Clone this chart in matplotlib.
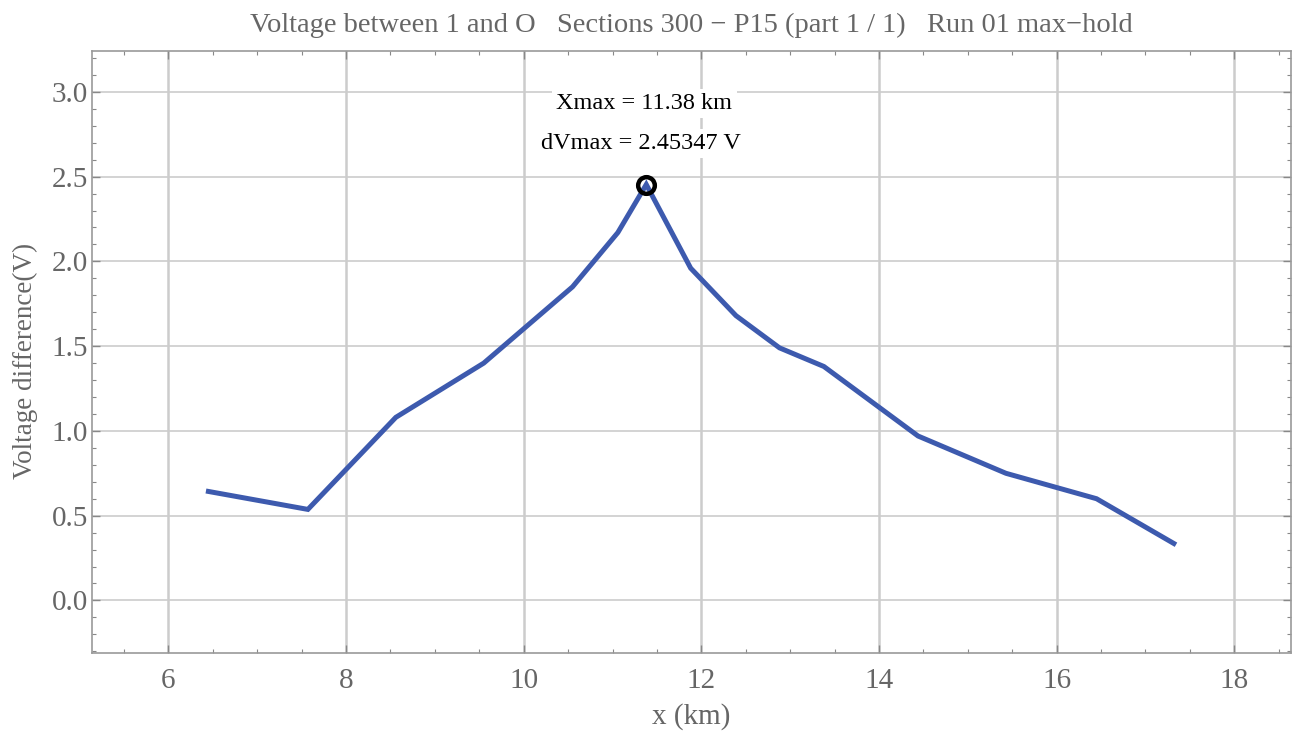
import numpy as np
import matplotlib.pyplot as plt
from matplotlib.ticker import MultipleLocator

x_km = [6.45, 7.57, 8.56, 9.55, 10.55, 11.06, 11.38, 11.88, 12.39, 12.88, 13.38,
        14.44, 15.43, 16.45, 17.32]
dv = [0.643, 0.537, 1.08, 1.40, 1.85, 2.17, 2.45347, 1.96, 1.68, 1.49, 1.38,
      0.97, 0.75, 0.60, 0.336]
x_max = 11.38
dv_max = 2.45347

title = "Voltage between 1 and O   Sections 300 \u2212 P15 (part 1 / 1)   Run 01 max\u2212hold"

plt.rcParams['font.family'] = ['Liberation Serif', 'DejaVu Serif']
grey = '#666666'

fig = plt.figure(figsize=(12.93, 7.31), dpi=100)
ax = fig.add_axes([0.0712, 0.1067, 0.9273, 0.8233])

ax.plot(x_km, dv, color='#3d5aae', lw=3.6, solid_joinstyle='miter', zorder=3)
ax.plot([x_max], [dv_max], marker='o', ms=12, mfc='none', mec='black', mew=3.2,
        zorder=4)

box = dict(facecolor='white', edgecolor='none', pad=3)
ax.text(x_max - 0.02, 2.93, "Xmax = 11.38 km", ha='center', va='center',
        fontsize=17.5, color='black', bbox=box, zorder=5)
ax.text(x_max - 0.06, 2.695, "dVmax = 2.45347 V", ha='center', va='center',
        fontsize=17.5, color='black', bbox=box, zorder=5)

ax.set_xlim(5.14, 18.64)
ax.set_ylim(-0.31, 3.24)
ax.xaxis.set_major_locator(MultipleLocator(2))
ax.xaxis.set_minor_locator(MultipleLocator(0.5))
ax.yaxis.set_major_locator(MultipleLocator(0.5))
ax.yaxis.set_minor_locator(MultipleLocator(0.1))
ax.yaxis.set_major_formatter(plt.FormatStrFormatter('%.1f'))

ax.grid(True, axis='x', color='#cccccc', lw=1.8)
ax.grid(True, axis='y', color='#cccccc', lw=1.2)
ax.set_axisbelow(True)

for s in ax.spines.values():
    s.set_color('#999999')
    s.set_linewidth(1.2)

ax.tick_params(which='both', direction='in', top=True, right=True,
               colors='#888888', labelcolor=grey, labelsize=21)
ax.tick_params(which='major', length=6, width=1)
ax.tick_params(which='minor', length=3, width=0.8)
ax.tick_params(axis='y', pad=3)
ax.tick_params(axis='x', pad=11)

ax.set_xlabel("x (km)", fontsize=21, color=grey, labelpad=6)
ax.set_ylabel("Voltage difference(V)", fontsize=19.5, color=grey)
ax.yaxis.set_label_coords(-0.045, 0.485)
ax.set_title(title, fontsize=20.5, color=grey, pad=14)

fig.savefig('out.png', dpi=100)
